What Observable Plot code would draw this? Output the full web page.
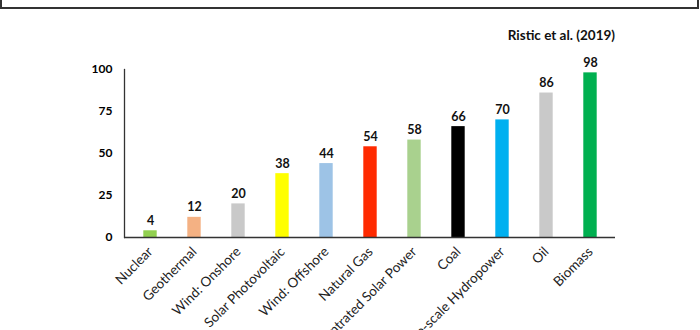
<!DOCTYPE html>
<html>
<head>
<meta charset="utf-8">
<script src="https://cdn.jsdelivr.net/npm/d3@7"></script>
<script src="https://cdn.jsdelivr.net/npm/@observablehq/plot@0.6"></script>
<style>
  html, body { margin: 0; padding: 0; background: #fff; }
  #wrap { position: relative; width: 700px; height: 330px; overflow: hidden; font-family: Lato, "Open Sans", sans-serif; }
  #titlebox { position: absolute; left: 0; top: -44px; width: 695px; height: 49px; border: 2px solid #333; box-sizing: content-box; }
  #title { position: absolute; left: 282px; top: 4px; font-size: 31px; font-weight: bold; color: #000; white-space: nowrap; }
  #source { position: absolute; right: 85px; top: 27px; font-size: 13.5px; font-weight: bold; color: #111; }
  #chart { position: absolute; left: 0; top: 0; }
</style>
</head>
<body>
<div id="wrap">
  <div id="titlebox"><div id="title">Aggregated Impact Scores</div></div>
  <div id="chart"></div>
  <div id="source">Ristic et al. (2019)</div>
</div>
<script>
const categories = ["Nuclear", "Geothermal", "Wind: Onshore", "Solar Photovoltaic", "Wind: Offshore", "Natural Gas", "Concentrated Solar Power", "Coal", "Large-scale Hydropower", "Oil", "Biomass"];
const values = [4, 12, 20, 38, 44, 54, 58, 66, 70, 86, 98];
const colors = ["#92D050", "#F4B183", "#C9C9C9", "#FFFF00", "#9DC3E6", "#FF2A00", "#A9D18E", "#000000", "#00B0F0", "#C9C9C9", "#00B050"];
const yTicks = [0, 25, 50, 75, 100];

const data = categories.map((c, i) => ({category: c, value: values[i], color: colors[i]}));

const chart = Plot.plot({
  width: 700,
  height: 330,
  marginLeft: 124,
  marginRight: 85,
  marginTop: 69,
  marginBottom: 93,
  style: {fontFamily: "Lato, 'Open Sans', sans-serif", background: "transparent", color: "#000"},
  x: {domain: categories, padding: 0, label: null},
  y: {domain: [0, 100], label: null},
  marks: [
    Plot.barY(data, {x: "category", y: "value", fill: d => d.color, insetLeft: 15.3, insetRight: 15.3}),
    Plot.text(data, {x: "category", y: "value", text: d => String(d.value), dy: -10, fontSize: 12.5, fontWeight: "bold", fill: "#111"}),
    Plot.axisY({ticks: yTicks, tickSize: 0, tickPadding: 12, fontSize: 12, fontWeight: "bold", label: null}),
    Plot.axisX({tickSize: 0, tickPadding: 12, tickRotate: -45, fontSize: 13.5, fill: "#222", label: null}),
    Plot.frame({anchor: "left", stroke: "#333", strokeWidth: 1.3}),
    Plot.ruleY([0], {stroke: "#333", strokeWidth: 1.3})
  ]
});
document.getElementById("chart").appendChild(chart);
</script>
</body>
</html>
